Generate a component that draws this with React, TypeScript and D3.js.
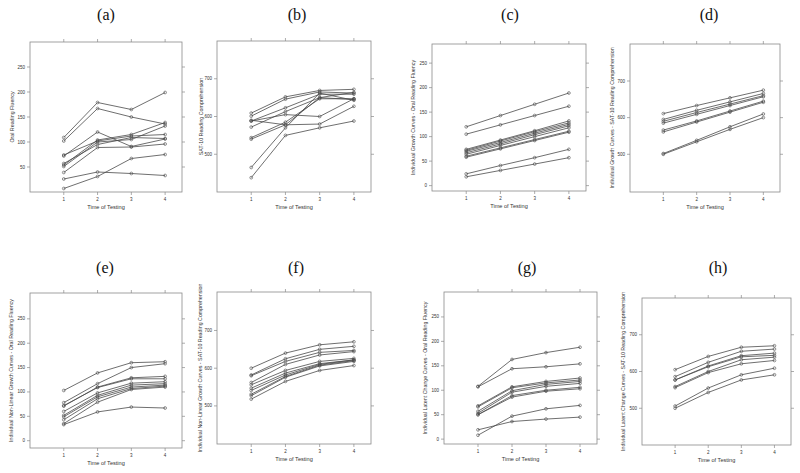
import React from "react";
import * as d3 from "d3";

const times = [1, 2, 3, 4];
const timeTickLabels = ["1", "2", "3", "4"];
const orfTicks = [50, 100, 150, 200, 250];
const orfTicksZero = [0, 50, 100, 150, 200, 250];
const satTicks = [500, 600, 700];

const titles = ["(a)", "(b)", "(c)", "(d)", "(e)", "(f)", "(g)", "(h)"];
const yLabels = [
  "Oral Reading Fluency",
  "SAT-10 Reading Comprehension",
  "Individual Growth Curves - Oral Reading Fluency",
  "Individual Growth Curves - SAT-10 Reading Comprehension",
  "Individual Non-Linear Growth Curves - Oral Reading Fluency",
  "Individual Non-Linear Growth Curves - SAT-10 Reading Comprehension",
  "Individual Latent Change Curves - Oral Reading Fluency",
  "Individual Latent Change Curves - SAT-10 Reading Comprehension",
];
const xLabel = "Time of Testing";

// (a) observed ORF
const seriesA = [
  [109, 179, 165, 199],
  [102, 167, 150, 136],
  [72, 120, 91, 106],
  [74, 102, 112, 115],
  [54, 104, 115, 139],
  [51, 100, 105, 132],
  [57, 95, 109, 107],
  [39, 89, 90, 96],
  [26, 40, 37, 33],
  [7, 31, 67, 75],
];
// (b) observed SAT-10
const seriesB = [
  [609, 652, 669, 672],
  [601, 646, 665, 662],
  [588, 623, 659, 659],
  [588, 605, 600, 647],
  [572, 613, 650, 664],
  [544, 585, 647, 647],
  [540, 578, 580, 627],
  [465, 570, 662, 643],
  [438, 550, 570, 588],
  [590, 578, 650, 645],
];
// (c) linear growth ORF
const seriesC = [
  [120, 143, 166, 189],
  [105, 124, 143, 162],
  [74, 93, 112, 132],
  [72, 91, 110, 128],
  [70, 88, 107, 125],
  [67, 85, 104, 122],
  [64, 82, 100, 118],
  [60, 77, 94, 111],
  [58, 75, 92, 109],
  [24, 41, 57, 74],
  [18, 31, 44, 57],
];
// (d) linear growth SAT-10
const seriesD = [
  [611, 633, 654, 675],
  [595, 620, 643, 666],
  [590, 614, 637, 660],
  [585, 609, 633, 657],
  [566, 591, 618, 645],
  [561, 588, 615, 642],
  [502, 538, 575, 610],
  [500, 534, 568, 600],
];
// (e) non-linear growth ORF
const seriesE = [
  [103, 139, 160, 162],
  [78, 117, 150, 158],
  [71, 110, 129, 132],
  [72, 109, 127, 127],
  [60, 98, 118, 121],
  [52, 93, 114, 117],
  [49, 90, 110, 114],
  [43, 86, 107, 112],
  [35, 79, 105, 110],
  [33, 59, 69, 67],
];
// (f) non-linear growth SAT-10
const seriesF = [
  [600, 640, 662, 670],
  [582, 625, 650, 658],
  [580, 618, 642, 647],
  [562, 610, 635, 644],
  [556, 594, 618, 626],
  [547, 587, 612, 622],
  [541, 582, 610, 622],
  [531, 578, 608, 620],
  [527, 576, 606, 618],
  [518, 565, 594, 607],
];
// (g) latent change ORF
const seriesG = [
  [108, 163, 177, 188],
  [107, 144, 148, 154],
  [68, 107, 118, 125],
  [66, 105, 115, 121],
  [57, 99, 112, 118],
  [53, 96, 108, 114],
  [50, 89, 100, 106],
  [50, 86, 98, 103],
  [8, 47, 62, 69],
  [19, 36, 41, 45],
];
// (h) latent change SAT-10
const seriesH = [
  [605, 641, 666, 670],
  [586, 625, 655, 661],
  [577, 615, 643, 650],
  [577, 613, 640, 644],
  [559, 600, 632, 639],
  [556, 597, 621, 630],
  [506, 555, 591, 609],
  [500, 543, 577, 591],
];

type Layout = {
  left: number; right: number; top: number; bottom: number;
  yDomain: [number, number]; ylabX: number; titleX: number; titleY: number;
};

const layouts: Layout[] = [
  { left: 30, right: 182, top: 42, bottom: 192, yDomain: [0, 300], ylabX: 14, titleX: 106, titleY: 20 },
  { left: 217, right: 371, top: 41, bottom: 192, yDomain: [400, 800], ylabX: 203, titleX: 297, titleY: 20 },
  { left: 432, right: 586, top: 44, bottom: 191, yDomain: [-11, 289], ylabX: 415, titleX: 510, titleY: 20 },
  { left: 630, right: 780, top: 44, bottom: 192, yDomain: [397, 801], ylabX: 614, titleX: 709, titleY: 20 },
  { left: 30, right: 182, top: 293, bottom: 448, yDomain: [-15, 303], ylabX: 13, titleX: 105, titleY: 273 },
  { left: 217, right: 371, top: 292, bottom: 444, yDomain: [399, 802], ylabX: 202, titleX: 296, titleY: 273 },
  { left: 444, right: 597, top: 292, bottom: 444, yDomain: [-10, 301], ylabX: 427, titleX: 527, titleY: 273 },
  { left: 642, right: 791, top: 298, bottom: 445, yDomain: [400, 800], ylabX: 625, titleX: 718, titleY: 273 },
];

const panelSeries = [seriesA, seriesB, seriesC, seriesD, seriesE, seriesF, seriesG, seriesH];
const panelTicks = [orfTicks, satTicks, orfTicksZero, satTicks, orfTicksZero, satTicks, orfTicksZero, satTicks];

const AXIS = "#8a8a8a";
const LINE = "#4a4a4a";
const TXT = "#333";
const SANS = "'Liberation Sans', Arial, sans-serif";

function Panel({ i }: { i: number }) {
  const L = layouts[i];
  const x = d3.scaleLinear().domain([0, 4.5]).range([L.left, L.right]);
  const y = d3.scaleLinear().domain(L.yDomain).range([L.bottom, L.top]);
  const line = d3.line<number>().x((_, k) => x(times[k])).y((v) => y(v));
  const tl = 3;
  const cy = (L.top + L.bottom) / 2;
  return (
    <g>
      <text x={L.titleX} y={L.titleY} textAnchor="middle" fontFamily="'Liberation Serif', 'Times New Roman', serif" fontSize={16} fill="#111">
        {titles[i]}
      </text>
      <rect x={L.left} y={L.top} width={L.right - L.left} height={L.bottom - L.top} fill="none" stroke={AXIS} strokeWidth={0.8} />
      {times.map((t, k) => (
        <g key={"xt" + k}>
          <line x1={x(t)} x2={x(t)} y1={L.bottom} y2={L.bottom + tl} stroke={AXIS} strokeWidth={0.7} />
          <line x1={x(t)} x2={x(t)} y1={L.top} y2={L.top - tl} stroke={AXIS} strokeWidth={0.7} />
          <text x={x(t)} y={L.bottom + 9} textAnchor="middle" fontFamily={SANS} fontSize={4.5} fill={TXT}>
            {timeTickLabels[k]}
          </text>
        </g>
      ))}
      {panelTicks[i].map((v) => (
        <g key={"yt" + v}>
          <line x1={L.left} x2={L.left - tl} y1={y(v)} y2={y(v)} stroke={AXIS} strokeWidth={0.7} />
          <line x1={L.right} x2={L.right + tl} y1={y(v)} y2={y(v)} stroke={AXIS} strokeWidth={0.7} />
          <text x={L.left - 5} y={y(v) + 1.5} textAnchor="end" fontFamily={SANS} fontSize={4.5} fill={TXT}>
            {v}
          </text>
        </g>
      ))}
      <text x={(L.left + L.right) / 2} y={L.bottom + 17} textAnchor="middle" fontFamily={SANS} fontSize={5.6} fill={TXT}>
        {xLabel}
      </text>
      <text transform={`translate(${L.ylabX},${cy}) rotate(-90)`} textAnchor="middle" fontFamily={SANS} fontSize={5.3} fill={TXT}>
        {yLabels[i]}
      </text>
      {panelSeries[i].map((s, k) => (
        <g key={"s" + k}>
          <path d={line(s) || ""} fill="none" stroke={LINE} strokeWidth={0.8} />
          {s.map((v, j) => (
            <circle key={j} cx={x(times[j])} cy={y(v)} r={1.4} fill="none" stroke={LINE} strokeWidth={0.6} />
          ))}
        </g>
      ))}
    </g>
  );
}

export default function App() {
  return (
    <svg width={800} height={473} style={{ position: "absolute", left: 0, top: 0, background: "#fff" }}>
      <rect width={800} height={473} fill="#fff" />
      {layouts.map((_, i) => (
        <Panel key={i} i={i} />
      ))}
    </svg>
  );
}
